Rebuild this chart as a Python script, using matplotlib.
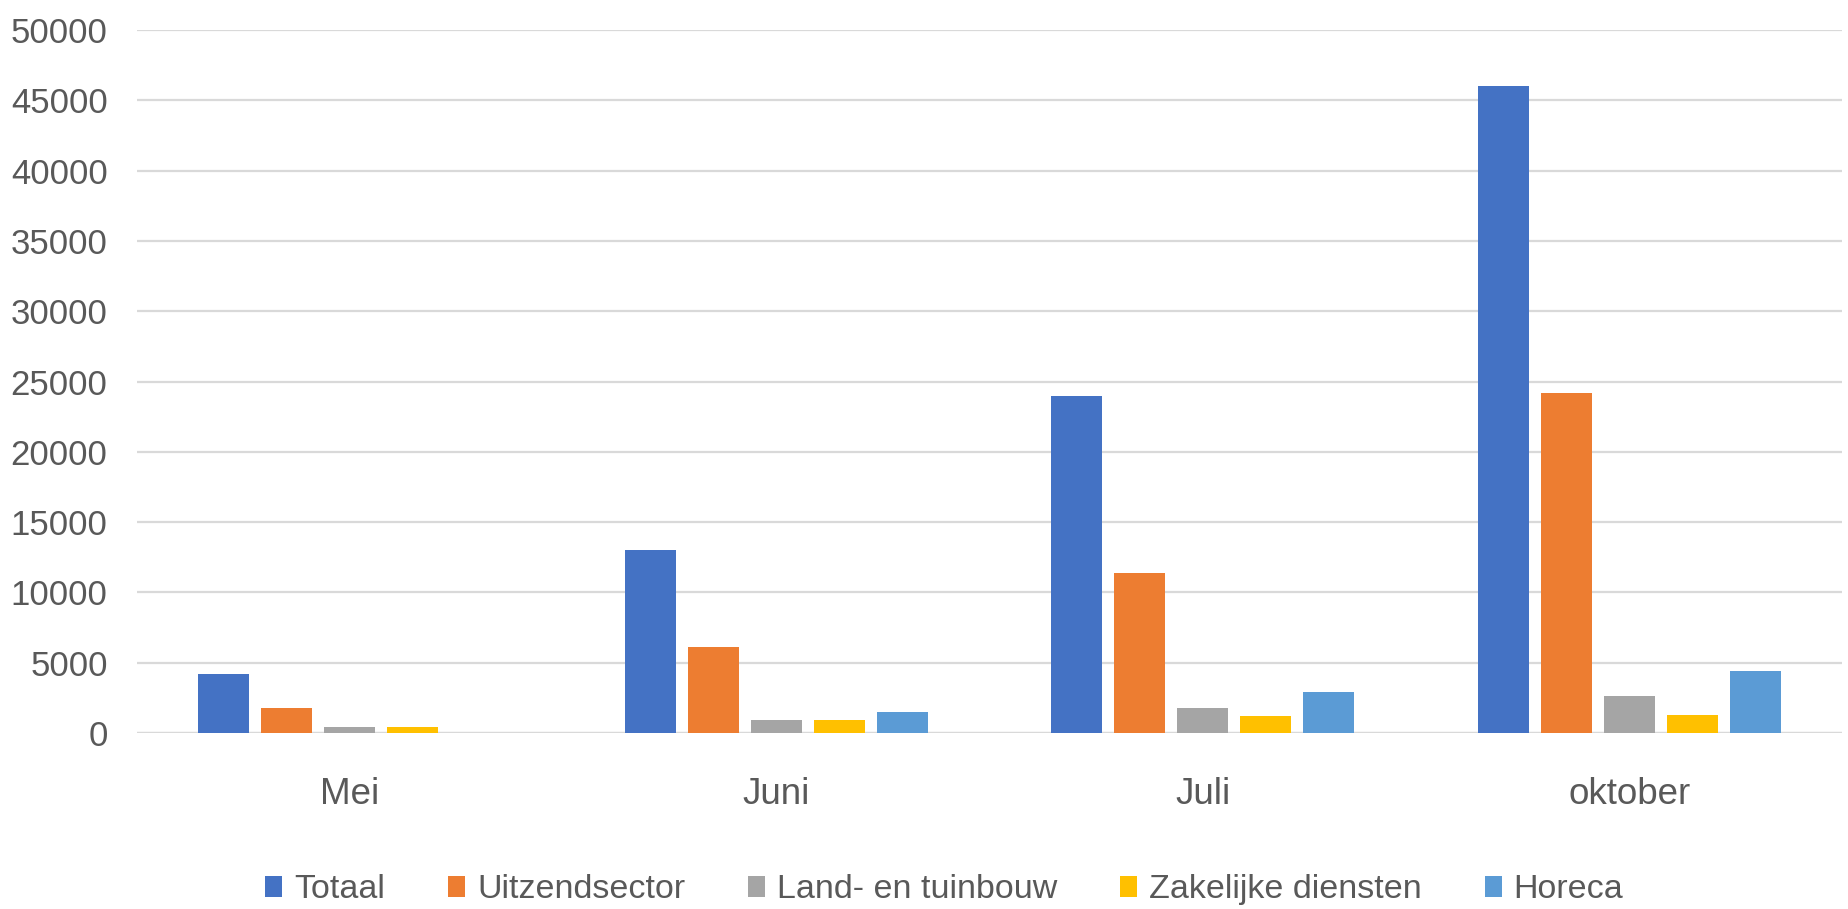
import numpy as np
import matplotlib.pyplot as plt

# Data
months = ['Mei', 'Juni', 'Juli', 'oktober']
series = ['Totaal', 'Uitzendsector', 'Land- en tuinbouw', 'Zakelijke diensten', 'Horeca']
totaal = [4200, 13000, 24000, 46000]
uitzendsector = [1800, 6100, 11400, 24200]
land_tuinbouw = [400, 900, 1800, 2600]
zakelijk = [450, 950, 1200, 1300]
horeca = [0, 1500, 2900, 4400]
yticks = [0, 5000, 10000, 15000, 20000, 25000, 30000, 35000, 40000, 45000, 50000]

values = [totaal, uitzendsector, land_tuinbouw, zakelijk, horeca]
colors = ['#4472C4', '#ED7D31', '#A5A5A5', '#FFC000', '#5B9BD5']

plt.rcParams['font.family'] = ['Liberation Sans', 'DejaVu Sans']
text_color = '#595959'

fig = plt.figure(figsize=(18.48, 9.09), dpi=100)
ax = fig.add_axes([0.074, 0.1936, 0.923, 0.7734])

x = np.arange(len(months))
pitch = 0.1477
width = 0.1196
for i in range(len(series)):
    ax.bar(x + (i - 2) * pitch, values[i], width, color=colors[i], label=series[i], zorder=3)

ax.set_xlim(-0.5, 3.5)
ax.set_ylim(0, 50000)
ax.set_yticks(yticks)
ax.set_yticklabels([str(v) for v in yticks])
ax.set_xticks(x)
ax.set_xticklabels(months)

ax.yaxis.grid(True, color='#D9D9D9', linewidth=1.6, zorder=0)
ax.set_axisbelow(True)
for s in ax.spines.values():
    s.set_visible(False)
ax.axhline(0, color='#D9D9D9', linewidth=1.6, zorder=2)

ax.tick_params(axis='y', length=0, pad=21, labelsize=25, labelcolor=text_color)
ax.tick_params(axis='x', length=0, pad=32, labelsize=26.5, labelcolor=text_color)

fig.legend(loc='center', bbox_to_anchor=(0.511, 0.021), ncol=5, frameon=False,
           fontsize=24.5, labelcolor=text_color, handlelength=0.5, handleheight=0.6,
           handletextpad=0.35, columnspacing=1.85)

fig.savefig('out.png', dpi=100)
